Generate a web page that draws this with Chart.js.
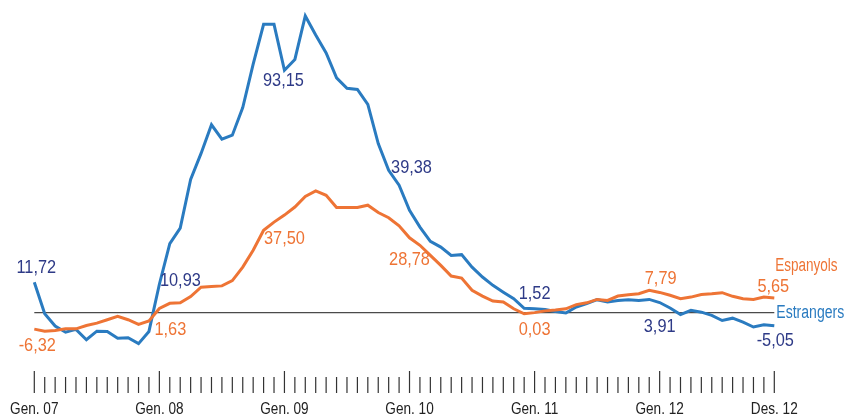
<!DOCTYPE html>
<html>
<head>
    <title>Estrangers i espanyols</title>
    <script src="https://cdn.jsdelivr.net/npm/chart.js"></script>
    <style>
        html, body { margin: 0; padding: 0; background: #fff; }
        #wrap { width: 845px; height: 417px; }
    </style>
</head>
<body>
    <div id="wrap">
        <canvas id="atur"></canvas>
    </div>
    <script>
        // monthly values, gen. 2007 - des. 2012
        const mesos = ['Gen', 'Feb', 'Març', 'Abr', 'Maig', 'Juny', 'Jul', 'Ag', 'Set', 'Oct', 'Nov', 'Des'];
        const anys = ['07', '08', '09', '10', '11', '12'];

        const estrangers = [
            11.72, -0.4, -5.1, -7.5, -6.4, -10.4, -7.1, -7.2, -9.8, -9.6, -11.9, -7.2,
            10.93, 26.5, 32.5, 51.2, 61.2, 72.2, 66.7, 68.2, 78.8, 95.5, 110.8, 110.8,
            93.15, 97.3, 114.0, 106.7, 99.8, 90.2, 86.2, 85.8, 80.0, 65.0, 54.7, 49.0,
            39.38, 32.9, 27.4, 25.2, 22.0, 22.3, 17.5, 13.7, 10.5, 7.9, 5.4, 1.7,
            1.52, 1.2, 0.5, -0.1, 2.2, 3.5, 5.0, 4.1, 4.7, 5.0, 4.7, 5.1,
            3.91, 1.8, -0.7, 0.9, 0.2, -1.0, -3.0, -2.1, -3.6, -5.5, -4.6, -5.05
        ];
        const espanyols = [
            -6.32, -7.1, -6.8, -6.2, -6.2, -4.9, -4.0, -2.7, -1.4, -2.7, -4.5, -3.2,
            1.63, 3.6, 3.8, 6.2, 9.8, 10.1, 10.3, 12.3, 17.5, 24.0, 31.7, 34.8,
            37.50, 40.6, 44.7, 46.8, 45.1, 40.4, 40.4, 40.4, 41.3, 38.5, 36.5, 33.4,
            28.78, 25.9, 22.0, 18.2, 14.1, 13.3, 8.6, 6.4, 4.5, 4.1, 1.5, -0.4,
            0.03, 0.7, 1.0, 1.5, 3.1, 3.8, 5.1, 4.7, 6.4, 6.9, 7.3, 8.6,
            7.79, 6.7, 5.4, 6.0, 7.0, 7.3, 7.7, 6.3, 5.4, 5.1, 6.0, 5.65
        ];
        // months that carry a value label (every January + last month)
        const marcats = [0, 12, 24, 36, 48, 60, 71];

        const labels = [];
        anys.forEach(a => mesos.forEach(m => labels.push(m + '. ' + a)));

        const FONT = '"Liberation Sans", Arial, sans-serif';
        const BLAU = '#2a7bc0';
        const BLAU_FOSC = '#2e3a87';
        const TARONJA = '#ee7435';

        // label offsets from the point (px), per series
        const offsetsEstr = [[2, -14], [21, -3], [-1, 11], [2, -42], [0, -15], [0, 24], [1, 15]];
        const offsetsEsp = [[3, 17], [11, 21], [0, 24], [0, 22], [0, 17], [1, -14], [-1, -11]];

        const fmt = v => v.toFixed(2).replace('.', ',');

        // condensed look: squeeze the text horizontally
        function text(ctx, s, x, y, align, squeeze) {
            ctx.save();
            ctx.translate(x, y);
            ctx.scale(squeeze, 1);
            ctx.textAlign = align;
            ctx.fillText(s, 0, 0);
            ctx.restore();
        }

        const decor = {
            id: 'decor',
            beforeDatasetsDraw(chart) {
                const { ctx, chartArea, scales } = chart;
                const y0 = scales.y.getPixelForValue(0);
                ctx.save();
                ctx.strokeStyle = '#4a4a4a';
                ctx.lineWidth = 1.3;
                ctx.beginPath();
                ctx.moveTo(chartArea.left, y0);
                ctx.lineTo(chartArea.right, y0);
                ctx.stroke();

                // month ticks and year labels under the plot
                ctx.strokeStyle = '#333';
                ctx.lineWidth = 1.2;
                ctx.fillStyle = '#222';
                ctx.font = '17px ' + FONT;
                ctx.textBaseline = 'middle';
                labels.forEach((l, i) => {
                    const x = scales.x.getPixelForValue(i);
                    const major = i % 12 === 0 || i === labels.length - 1;
                    ctx.beginPath();
                    ctx.moveTo(x, chartArea.bottom + (major ? 0 : 6));
                    ctx.lineTo(x, chartArea.bottom + 22);
                    ctx.stroke();
                    if (major) text(ctx, l, x, chartArea.bottom + 38, 'center', 0.8);
                });
                ctx.restore();
            },
            afterDatasetsDraw(chart) {
                const { ctx, chartArea, scales } = chart;
                ctx.save();
                ctx.font = '19px ' + FONT;
                ctx.textBaseline = 'middle';
                marcats.forEach((i, k) => {
                    ctx.fillStyle = BLAU_FOSC;
                    text(ctx, fmt(estrangers[i]),
                        scales.x.getPixelForValue(i) + offsetsEstr[k][0],
                        scales.y.getPixelForValue(estrangers[i]) + offsetsEstr[k][1], 'center', 0.86);
                    ctx.fillStyle = TARONJA;
                    text(ctx, fmt(espanyols[i]),
                        scales.x.getPixelForValue(i) + offsetsEsp[k][0],
                        scales.y.getPixelForValue(espanyols[i]) + offsetsEsp[k][1], 'center', 0.86);
                });

                // series names at the right end
                const last = labels.length - 1;
                ctx.font = '18px ' + FONT;
                ctx.fillStyle = TARONJA;
                text(ctx, chart.data.datasets[1].label, chartArea.right + 1,
                    scales.y.getPixelForValue(espanyols[last]) - 32, 'left', 0.75);
                ctx.fillStyle = BLAU;
                text(ctx, chart.data.datasets[0].label, chartArea.right + 2,
                    scales.y.getPixelForValue(0), 'left', 0.78);
                ctx.restore();
            }
        };

        const ctx = document.getElementById('atur').getContext('2d');
        const chart = new Chart(ctx, {
            type: 'line',
            data: {
                labels: labels,
                datasets: [
                    {
                        label: 'Estrangers',
                        data: estrangers,
                        borderColor: BLAU,
                        borderWidth: 3,
                        pointRadius: 0,
                        tension: 0,
                        fill: false,
                        order: 2,
                    },
                    {
                        label: 'Espanyols',
                        data: espanyols,
                        borderColor: TARONJA,
                        borderWidth: 3,
                        pointRadius: 0,
                        tension: 0,
                        fill: false,
                        order: 1,
                    },
                ],
            },
            options: {
                responsive: true,
                maintainAspectRatio: false,
                animation: false,
                layout: { padding: { left: 34.3, right: 70.7, top: 10, bottom: 46 } },
                plugins: {
                    legend: { display: false },
                    tooltip: { enabled: false },
                },
                scales: {
                    x: {
                        display: false,
                        offset: false,
                    },
                    y: {
                        display: false,
                        min: -22.4,
                        max: 116.3,
                    },
                },
            },
            plugins: [decor],
        });
    </script>
</body>
</html>
